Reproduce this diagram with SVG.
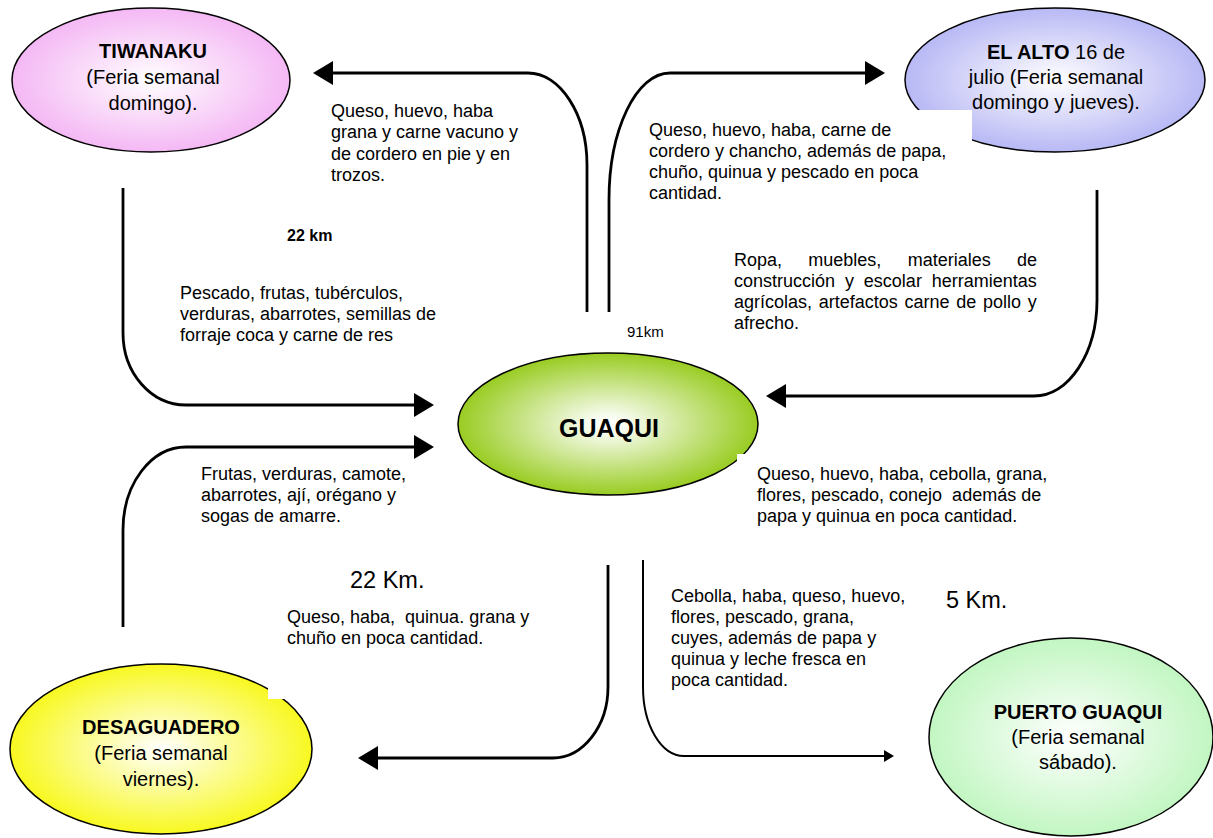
<svg xmlns="http://www.w3.org/2000/svg" width="1213" height="838" viewBox="0 0 1213 838">
<style>
text{font-family:"Liberation Sans",Arial,sans-serif;fill:#000}
.node{stroke:#000;stroke-width:1.5}
.nt{font-size:20px;text-anchor:middle}
.b{font-weight:bold}
.lbl{font-size:18px;white-space:pre}
.km{font-size:23.5px}
.sm{font-size:15px}
.conn{fill:none;stroke:#000;stroke-width:2.8}
.thin{stroke-width:2}
.box{fill:#fff}
</style>
<defs>
<radialGradient id="gPink" cx="50%" cy="50%" r="50%"><stop offset="0" stop-color="#ffffff"/><stop offset="1" stop-color="#f4b8f4"/></radialGradient>
<radialGradient id="gBlue" cx="50%" cy="50%" r="50%"><stop offset="0" stop-color="#ffffff"/><stop offset="1" stop-color="#b8b8f5"/></radialGradient>
<radialGradient id="gGreen" cx="50%" cy="50%" r="50%"><stop offset="0" stop-color="#ffffff"/><stop offset="0.12" stop-color="#f8fcf0"/><stop offset="1" stop-color="#99cc22"/></radialGradient>
<radialGradient id="gYellow" cx="50%" cy="50%" r="50%"><stop offset="0" stop-color="#ffffff"/><stop offset="1" stop-color="#f8f820"/></radialGradient>
<radialGradient id="gLight" cx="50%" cy="50%" r="50%"><stop offset="0" stop-color="#ffffff"/><stop offset="1" stop-color="#c2f6c2"/></radialGradient>
<marker id="ah" markerUnits="userSpaceOnUse" markerWidth="20" markerHeight="24" viewBox="0 0 20 24" refX="0" refY="12" orient="auto"><path d="M0,0 L20,12 L0,24 z" fill="#000"/></marker>
<marker id="ahs" markerUnits="userSpaceOnUse" markerWidth="10" markerHeight="12" viewBox="0 0 10 12" refX="0" refY="6" orient="auto"><path d="M0,0 L10,6 L0,12 z" fill="#000"/></marker>
</defs>
<rect width="1213" height="838" fill="#fff"/>

<g id="node-tiwanaku">
<ellipse class="node" cx="151" cy="80" rx="139" ry="72" fill="url(#gPink)"/>
<text class="nt b" x="153" y="58">TIWANAKU</text>
<text class="nt" x="153" y="84">(Feria semanal</text>
<text class="nt" x="153" y="110">domingo).</text>
</g>

<g id="node-elalto">
<ellipse class="node" cx="1055" cy="80" rx="150" ry="72" fill="url(#gBlue)"/>
<text class="nt" x="1056" y="59"><tspan class="b">EL ALTO</tspan> 16 de</text>
<text class="nt" x="1056" y="84">julio (Feria semanal</text>
<text class="nt" x="1056" y="109">domingo y jueves).</text>
</g>

<g id="node-guaqui">
<ellipse class="node" cx="608" cy="424" rx="150" ry="71" fill="url(#gGreen)"/>
<text class="nt b" x="609" y="437" style="font-size:25px">GUAQUI</text>
</g>

<g id="node-desaguadero">
<ellipse class="node" cx="161" cy="749" rx="151" ry="85" fill="url(#gYellow)"/>
<text class="nt b" x="161" y="734">DESAGUADERO</text>
<text class="nt" x="161" y="760">(Feria semanal</text>
<text class="nt" x="161" y="786">viernes).</text>
</g>

<g id="node-puerto">
<ellipse class="node" cx="1071" cy="737" rx="142" ry="99" fill="url(#gLight)"/>
<text class="nt b" x="1078" y="719">PUERTO GUAQUI</text>
<text class="nt" x="1078" y="744">(Feria semanal</text>
<text class="nt" x="1078" y="769">sábado).</text>
</g>

<g id="connectors">
<path class="conn" d="M587,312 L587,165 C587,114 560,73 528,73 L333,73" marker-end="url(#ah)"/>
<path class="conn" d="M609,312 L609,200 C609,130 636,73 670,73 L865,73" marker-end="url(#ah)"/>
<path class="conn" d="M123,188 L123,333 C123,373 151,405 186,405 L414,405" marker-end="url(#ah)"/>
<path class="conn" d="M1097,190 L1097,300 C1097,353 1069,396 1034,396 L786,396" marker-end="url(#ah)"/>
<path class="conn" d="M123,627 L123,530 C123,484 151,447 186,447 L414,447" marker-end="url(#ah)"/>
<path class="conn" d="M608,565 L608,687 C608,726 583,758 553,758 L378,758" marker-end="url(#ah)"/>
<path class="conn thin" d="M643,560 L643,687 C643,725 661,756 684,756 L884,756" marker-end="url(#ahs)"/>
</g>

<g id="label-tiwanaku-out">
<text class="lbl" x="331" y="117">Queso, huevo, haba</text>
<text class="lbl" x="331" y="138">grana y carne vacuno y</text>
<text class="lbl" x="331" y="160">de cordero en pie y en</text>
<text class="lbl" x="331" y="181">trozos.</text>
</g>
<text class="b" x="287" y="241" style="font-size:16px">22 km</text>
<g id="label-tiwanaku-in">
<text class="lbl" x="180" y="299">Pescado, frutas, tubérculos,</text>
<text class="lbl" x="180" y="320">verduras, abarrotes, semillas de</text>
<text class="lbl" x="180" y="341">forraje coca y carne de res</text>
</g>
<g id="label-elalto-out">
<rect class="box" x="640" y="110" width="332" height="100"/>
<text class="lbl" x="649" y="136">Queso, huevo, haba, carne de</text>
<text class="lbl" x="649" y="157">cordero y chancho, además de papa,</text>
<text class="lbl" x="649" y="178">chuño, quinua y pescado en poca</text>
<text class="lbl" x="649" y="199">cantidad.</text>
</g>
<text class="sm" x="627" y="337">91km</text>
<g id="label-elalto-in">
<text class="lbl" x="734" y="266" style="word-spacing:21.3px">Ropa, muebles, materiales de</text>
<text class="lbl" x="734" y="287" style="word-spacing:4.9px">construcción y escolar herramientas</text>
<text class="lbl" x="734" y="308" style="word-spacing:1.7px">agrícolas, artefactos carne de pollo y</text>
<text class="lbl" x="734" y="329">afrecho.</text>
</g>
<g id="label-puerto-out-top">
<rect class="box" x="737" y="454" width="330" height="80"/>
<text class="lbl" x="757" y="480">Queso, huevo, haba, cebolla, grana,</text>
<text class="lbl" x="757" y="501">flores, pescado, conejo  además de</text>
<text class="lbl" x="757" y="522">papa y quinua en poca cantidad.</text>
</g>
<g id="label-desaguadero-in">
<text class="lbl" x="201" y="480">Frutas, verduras, camote,</text>
<text class="lbl" x="201" y="501">abarrotes, ají, orégano y</text>
<text class="lbl" x="201" y="522">sogas de amarre.</text>
</g>
<text class="km" x="350" y="588">22 Km.</text>
<g id="label-desaguadero-out">
<rect class="box" x="268" y="600" width="280" height="99"/>
<text class="lbl" x="287" y="623">Queso, haba,  quinua. grana y</text>
<text class="lbl" x="287" y="644">chuño en poca cantidad.</text>
</g>
<g id="label-puerto-out">
<text class="lbl" x="671" y="602">Cebolla, haba, queso, huevo,</text>
<text class="lbl" x="671" y="623">flores, pescado, grana,</text>
<text class="lbl" x="671" y="644">cuyes, además de papa y</text>
<text class="lbl" x="671" y="665">quinua y leche fresca en</text>
<text class="lbl" x="671" y="686">poca cantidad.</text>
</g>
<text class="km" x="946" y="608">5 Km.</text>
</svg>
